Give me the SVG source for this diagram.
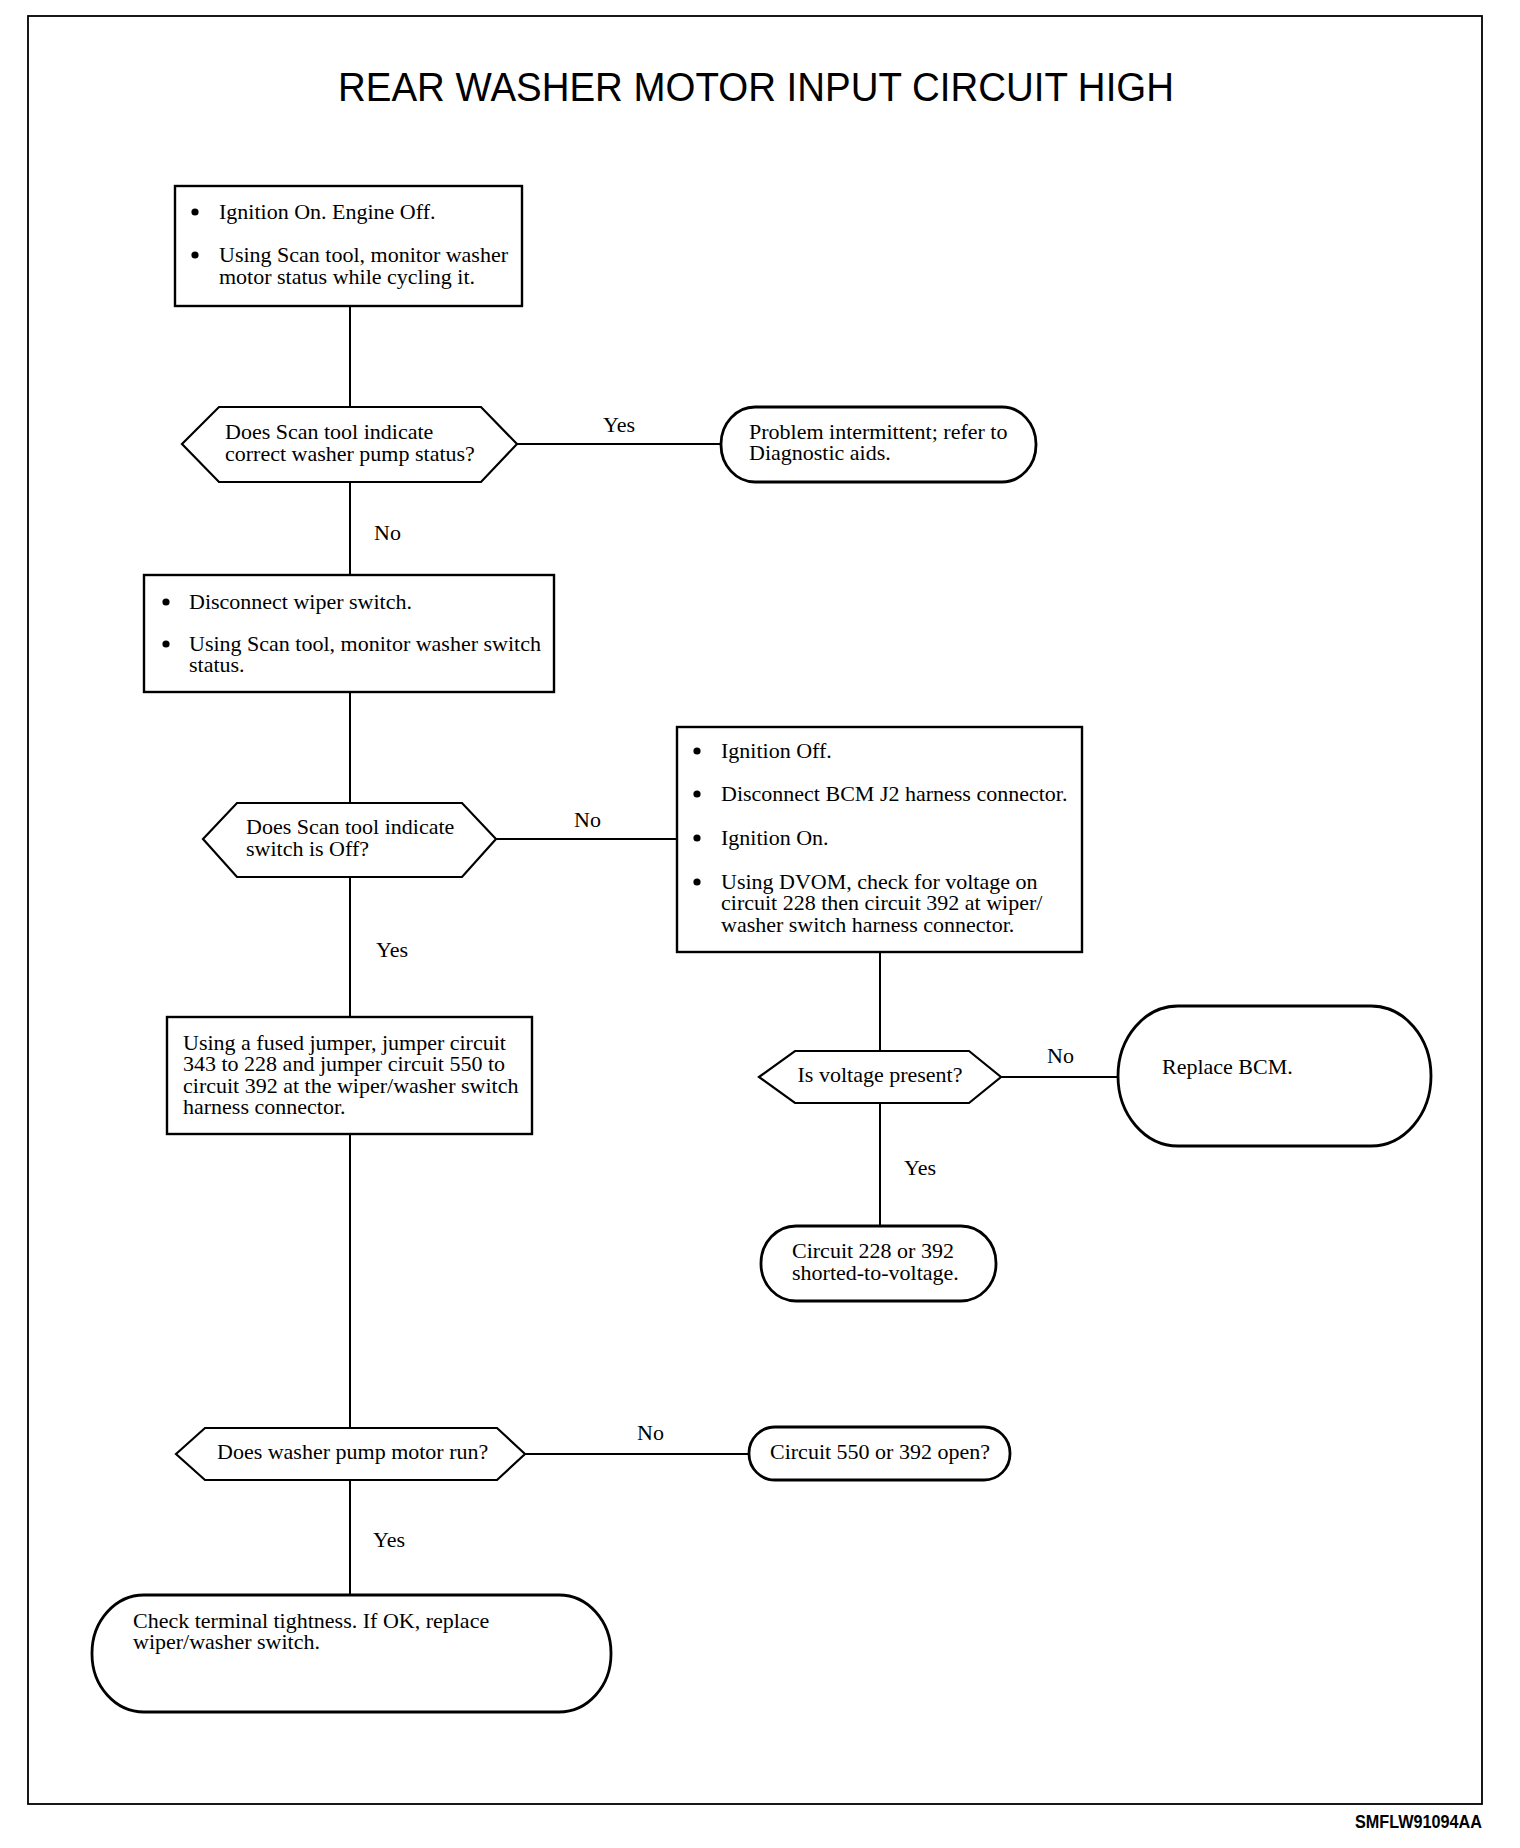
<svg xmlns="http://www.w3.org/2000/svg" width="1520" height="1848" viewBox="0 0 1520 1848">
<style>
.t{font-family:"Liberation Serif","Times New Roman",serif;font-size:22px;fill:#000}
.box{fill:#fff;stroke:#000;stroke-width:2.4}
.dec{fill:#fff;stroke:#000;stroke-width:2.2}
.term{fill:#fff;stroke:#000;stroke-width:2.8}
.ln{stroke:#000;stroke-width:2;fill:none}
.bul{fill:#000}
</style>
<rect x="0" y="0" width="1520" height="1848" fill="#fff"/>
<rect x="28" y="16" width="1454" height="1788" fill="none" stroke="#000" stroke-width="1.8"/>
<text x="756" y="101" text-anchor="middle" font-family="'Liberation Sans',Arial,sans-serif" font-size="40" textLength="836" lengthAdjust="spacingAndGlyphs">REAR WASHER MOTOR INPUT CIRCUIT HIGH</text>
<text x="1482" y="1828" text-anchor="end" font-family="'Liberation Sans',Arial,sans-serif" font-size="19" font-weight="bold" textLength="127" lengthAdjust="spacingAndGlyphs">SMFLW91094AA</text>

<g id="connectors">
<line class="ln" x1="350" y1="306" x2="350" y2="407"/>
<line class="ln" x1="517" y1="444" x2="721" y2="444"/>
<line class="ln" x1="350" y1="482" x2="350" y2="575"/>
<line class="ln" x1="350" y1="692" x2="350" y2="803"/>
<line class="ln" x1="496" y1="839" x2="677" y2="839"/>
<line class="ln" x1="350" y1="877" x2="350" y2="1017"/>
<line class="ln" x1="880" y1="952" x2="880" y2="1051"/>
<line class="ln" x1="1001" y1="1077" x2="1118" y2="1077"/>
<line class="ln" x1="880" y1="1103" x2="880" y2="1226"/>
<line class="ln" x1="350" y1="1134" x2="350" y2="1428"/>
<line class="ln" x1="525" y1="1454" x2="749" y2="1454"/>
<line class="ln" x1="350" y1="1480" x2="350" y2="1595"/>
<text class="t" x="603" y="432">Yes</text>
<text class="t" x="374" y="540">No</text>
<text class="t" x="574" y="827">No</text>
<text class="t" x="376" y="957">Yes</text>
<text class="t" x="1047" y="1063">No</text>
<text class="t" x="904" y="1175">Yes</text>
<text class="t" x="637" y="1440">No</text>
<text class="t" x="373" y="1547">Yes</text>
</g>

<g id="box1">
<rect class="box" x="175" y="186" width="347" height="120"/>
<circle class="bul" cx="195" cy="212" r="3.6"/>
<text class="t" x="219" y="219">Ignition On. Engine Off.</text>
<circle class="bul" cx="195" cy="255" r="3.6"/>
<text class="t" x="219" y="262">Using Scan tool, monitor washer</text>
<text class="t" x="219" y="284">motor status while cycling it.</text>
</g>

<g id="decision1">
<polygon class="dec" points="182,444 219,407 481,407 517,444 481,482 219,482"/>
<text class="t" x="225" y="439">Does Scan tool indicate</text>
<text class="t" x="225" y="461">correct washer pump status?</text>
</g>

<g id="term1">
<rect class="term" x="721" y="407" width="315" height="75" rx="34" ry="37"/>
<text class="t" x="749" y="439">Problem intermittent; refer to</text>
<text class="t" x="749" y="460">Diagnostic aids.</text>
</g>

<g id="box2">
<rect class="box" x="144" y="575" width="410" height="117"/>
<circle class="bul" cx="166" cy="602" r="3.6"/>
<text class="t" x="189" y="609">Disconnect wiper switch.</text>
<circle class="bul" cx="166" cy="644" r="3.6"/>
<text class="t" x="189" y="651">Using Scan tool, monitor washer switch</text>
<text class="t" x="189" y="672">status.</text>
</g>

<g id="decision2">
<polygon class="dec" points="203,839 237,803 462,803 496,839 462,877 237,877"/>
<text class="t" x="246" y="834">Does Scan tool indicate</text>
<text class="t" x="246" y="856">switch is Off?</text>
</g>

<g id="box3">
<rect class="box" x="677" y="727" width="405" height="225"/>
<circle class="bul" cx="697" cy="751" r="3.6"/>
<text class="t" x="721" y="758">Ignition Off.</text>
<circle class="bul" cx="697" cy="794" r="3.6"/>
<text class="t" x="721" y="801">Disconnect BCM J2 harness connector.</text>
<circle class="bul" cx="697" cy="838" r="3.6"/>
<text class="t" x="721" y="845">Ignition On.</text>
<circle class="bul" cx="697" cy="882" r="3.6"/>
<text class="t" x="721" y="889">Using DVOM, check for voltage on</text>
<text class="t" x="721" y="910">circuit 228 then circuit 392 at wiper/</text>
<text class="t" x="721" y="932">washer switch harness connector.</text>
</g>

<g id="box4">
<rect class="box" x="167" y="1017" width="365" height="117"/>
<text class="t" x="183" y="1050">Using a fused jumper, jumper circuit</text>
<text class="t" x="183" y="1071">343 to 228 and jumper circuit 550 to</text>
<text class="t" x="183" y="1093">circuit 392 at the wiper/washer switch</text>
<text class="t" x="183" y="1114">harness connector.</text>
</g>

<g id="decision3">
<polygon class="dec" points="759,1077 795,1051 969,1051 1001,1077 969,1103 795,1103"/>
<text class="t" x="880" y="1082" text-anchor="middle">Is voltage present?</text>
</g>

<g id="term2">
<rect class="term" x="1118" y="1006" width="313" height="140" rx="60" ry="70"/>
<text class="t" x="1162" y="1074">Replace BCM.</text>
</g>

<g id="term3">
<rect class="term" x="761" y="1226" width="235" height="75" rx="35" ry="37"/>
<text class="t" x="792" y="1258">Circuit 228 or 392</text>
<text class="t" x="792" y="1280">shorted-to-voltage.</text>
</g>

<g id="decision4">
<polygon class="dec" points="176,1454 205,1428 497,1428 525,1454 497,1480 205,1480"/>
<text class="t" x="217" y="1459">Does washer pump motor run?</text>
</g>

<g id="term4">
<rect class="term" x="749" y="1427" width="261" height="53" rx="26" ry="26"/>
<text class="t" x="770" y="1459">Circuit 550 or 392 open?</text>
</g>

<g id="term5">
<rect class="term" x="92" y="1595" width="519" height="117" rx="52" ry="58"/>
<text class="t" x="133" y="1628">Check terminal tightness. If OK, replace</text>
<text class="t" x="133" y="1649">wiper/washer switch.</text>
</g>
</svg>
